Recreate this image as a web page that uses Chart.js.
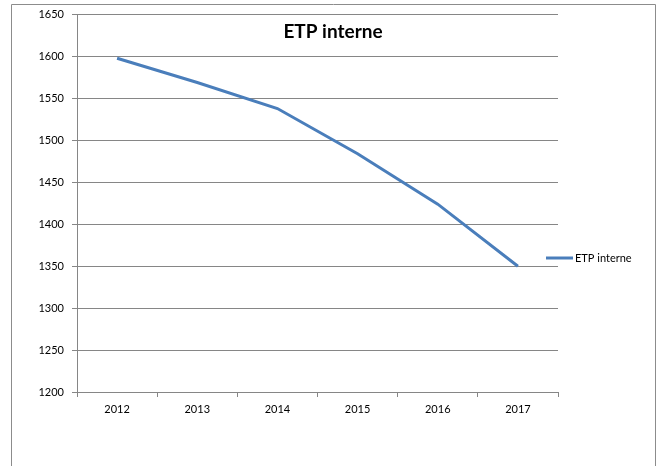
<!DOCTYPE html>
<html>
<head>
<meta charset="utf-8">
<script src="https://cdn.jsdelivr.net/npm/chart.js@4/dist/chart.umd.min.js"></script>
<style>
html,body{margin:0;padding:0;background:#fff;}
#wrap{width:661px;height:466px;position:relative;}
</style>
</head>
<body>
<div id="wrap"><canvas id="c" width="661" height="466"></canvas></div>
<script>
const categories = ['2012','2013','2014','2015','2016','2017'];
const etpInterne = [1598, 1569, 1538, 1484, 1424, 1350];
const seriesName = 'ETP interne';
const chartTitle = 'ETP interne';
const yMin = 1200, yMax = 1650, yStep = 50;

const FONT = 'Lato, "Open Sans", "Liberation Sans", sans-serif';
const LINE_COLOR = '#4a7ebb';
const GRID_COLOR = '#868686';

const decor = {
  id: 'decor',
  beforeDraw(chart) {
    const ctx = chart.ctx;
    ctx.save();
    ctx.strokeStyle = '#8c8c8c';
    ctx.lineWidth = 1;
    ctx.beginPath();
    ctx.moveTo(11.5, 470);
    ctx.lineTo(11.5, 4.5);
    ctx.lineTo(655.5, 4.5);
    ctx.lineTo(655.5, 470);
    ctx.stroke();
    ctx.restore();
  },
  afterDraw(chart) {
    const ctx = chart.ctx;
    ctx.save();
    ctx.fillStyle = '#000';
    ctx.font = 'bold 19px ' + FONT;
    ctx.textAlign = 'center';
    ctx.textBaseline = 'middle';
    ctx.fillText(chartTitle, 333, 32);
    const ly = 258;
    ctx.strokeStyle = LINE_COLOR;
    ctx.lineWidth = 3;
    ctx.beginPath();
    ctx.moveTo(546, ly);
    ctx.lineTo(573, ly);
    ctx.stroke();
    ctx.fillStyle = '#000';
    ctx.font = '11px ' + FONT;
    ctx.textAlign = 'left';
    ctx.fillText(seriesName, 575, ly);
    ctx.restore();
  }
};

new Chart(document.getElementById('c'), {
  type: 'line',
  data: {
    labels: categories,
    datasets: [{
      label: seriesName,
      data: etpInterne,
      borderColor: LINE_COLOR,
      borderWidth: 3,
      pointRadius: 0,
      tension: 0,
      fill: false
    }]
  },
  options: {
    responsive: false,
    animation: false,
    layout: { padding: { top: 13, right: 103, bottom: 0, left: 0 } },
    plugins: { legend: { display: false }, title: { display: false }, tooltip: { enabled: false } },
    scales: {
      x: {
        offset: true,
        grid: { display: true, drawOnChartArea: false, offset: true, tickLength: 5, color: GRID_COLOR },
        border: { display: true, color: GRID_COLOR },
        ticks: { color: '#000', font: { family: FONT, size: 11 }, padding: 6, maxRotation: 0 },
        afterFit(s) { s.height = 74; }
      },
      y: {
        min: yMin, max: yMax,
        grid: { color: GRID_COLOR, tickLength: 5 },
        border: { display: true, color: GRID_COLOR },
        ticks: { stepSize: yStep, color: '#000', font: { family: FONT, size: 11 }, padding: 8,
                 callback: (v) => String(v) },
        afterFit(s) { s.width = 77; }
      }
    }
  },
  plugins: [decor]
});
</script>
</body>
</html>
